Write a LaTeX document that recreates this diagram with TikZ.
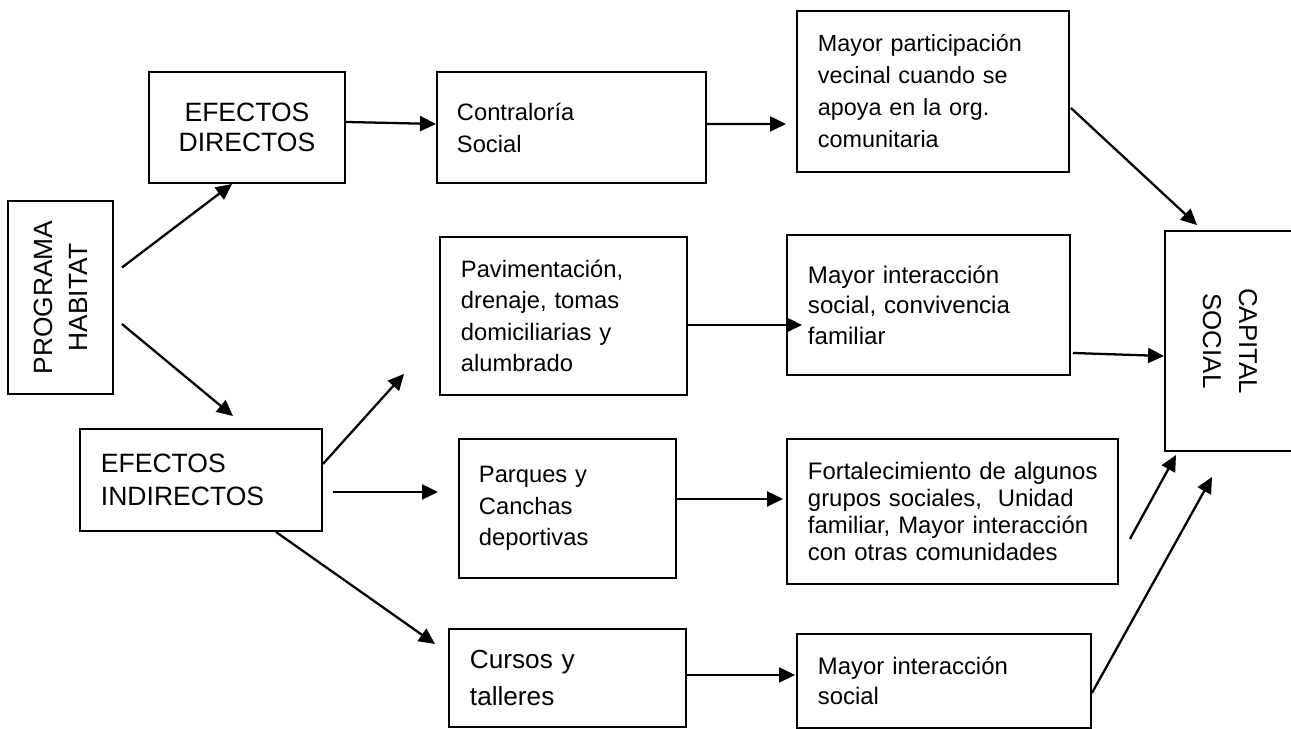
\documentclass[tikz,border=0pt]{standalone}
\usepackage{fontspec}
\setmainfont{Liberation Sans}
\usetikzlibrary{arrows.meta}
\newdimen\pxu
\pxu=0.02cm
\begin{document}
\begin{tikzpicture}[x=0.02cm, y=-0.02cm,
    caja/.style={draw, line width=1.1pt, inner ysep=0pt, align=left, anchor=north west},
    flecha/.style={line width=1.3pt, -{Triangle[length=0.32cm, width=0.3cm]}}]
  \useasboundingbox (0,0) rectangle (1291,728);

  \node[caja, anchor=center, rotate=90, align=center, minimum width=193\pxu, minimum height=105\pxu, inner xsep=0pt,
        font={\fontsize{15}{19.9}\selectfont}] (prog) at (60.5,297.5) {PROGRAMA\\HABITAT};
  \node[caja, align=center, minimum width=196\pxu, minimum height=111\pxu, inner xsep=0pt, text width=196\pxu,
        font={\fontsize{15.1}{17.1}\selectfont}] (dir) at (148,71) {EFECTOS\\DIRECTOS};
  \node[caja, minimum height=102\pxu, inner xsep=21\pxu, text width=200\pxu,
        font={\fontsize{15.1}{18.8}\selectfont}] (ind) at (79,428) {EFECTOS\\INDIRECTOS};

  \node[caja, minimum height=111\pxu, inner xsep=20\pxu, text width=229\pxu,
        font={\fontsize{13.5}{18.2}\selectfont}] (contra) at (436,71) {Contralor\'ia\\Social};
  \node[caja, minimum height=158\pxu, inner xsep=21\pxu, text width=205\pxu,
        font={\fontsize{13.5}{17.9}\selectfont}] (pav) at (439,236) {Pavimentaci\'on,\\drenaje, tomas\\domiciliarias y\\alumbrado};
  \node[caja, minimum height=139\pxu, inner xsep=20\pxu, text width=177\pxu,
        font={\fontsize{13.5}{17.9}\selectfont}] (parq) at (458,438) {Parques y\\Canchas\\deportivas};
  \node[caja, minimum height=98\pxu, inner xsep=21\pxu, text width=195\pxu,
        font={\fontsize{14.9}{20.5}\selectfont}] (cur) at (448,628) {Cursos y\\talleres};

  \node[caja, minimum height=161\pxu, inner xsep=21\pxu, text width=230\pxu,
        font={\fontsize{13.3}{18.2}\selectfont}] (part) at (796,10) {Mayor participaci\'on\\vecinal cuando se\\apoya en la org.\\comunitaria};
  \node[caja, minimum height=140\pxu, inner xsep=21\pxu, text width=241\pxu,
        font={\fontsize{13.7}{17.4}\selectfont}] (inter) at (786,234) {Mayor interacci\'on\\social, convivencia\\familiar};
  \node[caja, minimum height=145\pxu, inner xsep=21\pxu, text width=289\pxu,
        font={\fontsize{13.6}{15.5}\selectfont}] (fort) at (786,438) {\mbox{Fortalecimiento de algunos}\\\mbox{grupos sociales,\ \ Unidad}\\\mbox{familiar, Mayor interacci\'on}\\\mbox{con otras comunidades}};
  \node[caja, minimum height=94\pxu, inner xsep=21\pxu, text width=252\pxu,
        font={\fontsize{13.6}{17.1}\selectfont}] (mis) at (796,633) {Mayor interacci\'on\\social};

  \node[caja, anchor=center, rotate=-90, align=center, minimum width=220\pxu, minimum height=130\pxu, inner xsep=0pt,
        font={\fontsize{14.7}{20.5}\selectfont}] (cap) at (1230,341) {CAPITAL\\SOCIAL};

  \draw[flecha] ([shift={(8,-30)}]prog.south)  -- ([shift={(-15,0)}]dir.south);
  \draw[flecha] ([shift={(8,26.5)}]prog.south) -- ([shift={(32,-12)}]ind.north);
  \draw[flecha] ([shift={(0,-5.5)}]dir.east)   -- ([shift={(0,-3.5)}]contra.west);
  \draw[flecha] ([shift={(0,-3.5)}]contra.east) -- ([shift={(-10,32.5)}]part.west);
  \draw[flecha] ([shift={(1,16.5)}]part.east)  -- ([shift={(-33,-5)}]cap.west);

  \draw[flecha] ([shift={(0,-16)}]ind.east)    -- ([shift={(-35,58)}]pav.west);
  \draw[flecha] ([shift={(10,12)}]ind.east)    -- ([shift={(-20,-16.5)}]parq.west);
  \draw[flecha] ([shift={(75,0)}]ind.south)    -- ([shift={(-13,-34)}]cur.west);

  \draw[flecha] ([shift={(0,9)}]pav.east)      -- ([shift={(16,20)}]inter.west);
  \draw[flecha] ([shift={(0,-9.5)}]parq.east)  -- ([shift={(-3,-12.5)}]fort.west);
  \draw[flecha] ([shift={(0,-3)}]cur.east)     -- ([shift={(-1,-6)}]mis.west);

  \draw[flecha] ([shift={(2,48)}]inter.east)   -- ([shift={(0,15)}]cap.south);
  \draw[flecha] ([shift={(11,27.5)}]fort.east) -- ([shift={(-54,3)}]cap.east);
  \draw[flecha] ([shift={(0,12)}]mis.east)     -- ([shift={(-18,25)}]cap.east);
\end{tikzpicture}
\end{document}
